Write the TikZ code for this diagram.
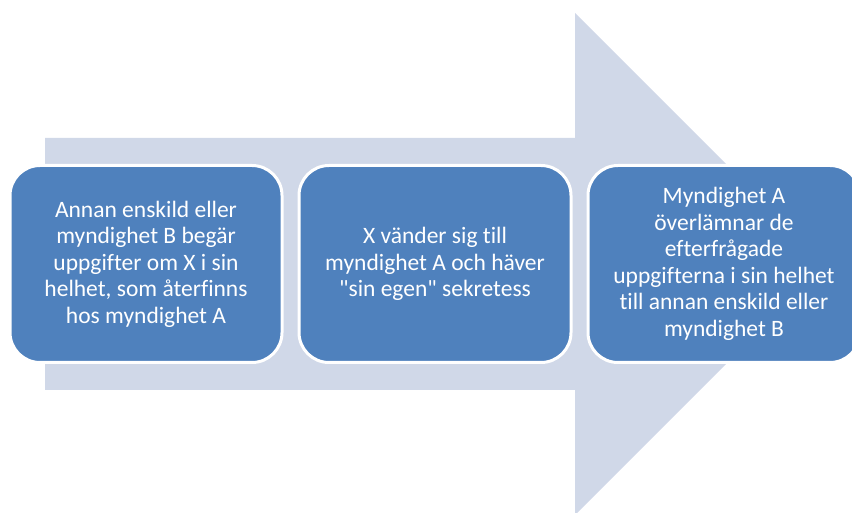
\documentclass[tikz,border=0pt]{standalone}
\usepackage{fontspec}
\setmainfont{Carlito}[Ligatures={TeXOff,NoCommon}]
\usepackage{tikz}
\usetikzlibrary{positioning}
\definecolor{StepBlue}{HTML}{4F81BD}
\definecolor{ArrowGray}{HTML}{D0D8E8}
\tikzset{
  stepbox/.style={draw=white,line width=3pt,fill=StepBlue,rounded corners=30pt,align=center,
    minimum width=272pt,minimum height=197pt,inner sep=4pt,text=white,
    font=\fontsize{23.5}{26.5}\selectfont},
  bigarrow/.style={fill=ArrowGray,draw=none}
}
\begin{document}
\begin{tikzpicture}[x=1pt,y=1pt,node distance=14pt]
\useasboundingbox (0,0) rectangle (852,512);
\begin{scope}
\clip (0,0) rectangle (852,512);
\fill[bigarrow] (45,374) -- (575,374) -- (575,499) -- (826,248) -- (575,-3) -- (575,122) -- (45,122) -- cycle;
\end{scope}
\node[stepbox] (ask) at (146,248) {Annan enskild eller\\myndighet B begär\\uppgifter om X i sin\\helhet, som återfinns\\hos myndighet A};
\node[stepbox,right=of ask] (waive) {X vänder sig till\\myndighet A och häver\\"sin egen" sekretess};
\node[stepbox,right=of waive] (hand) {Myndighet A\\överlämnar de\\efterfrågade\\uppgifterna i sin helhet\\till annan enskild eller\\myndighet B};
\end{tikzpicture}
\end{document}
